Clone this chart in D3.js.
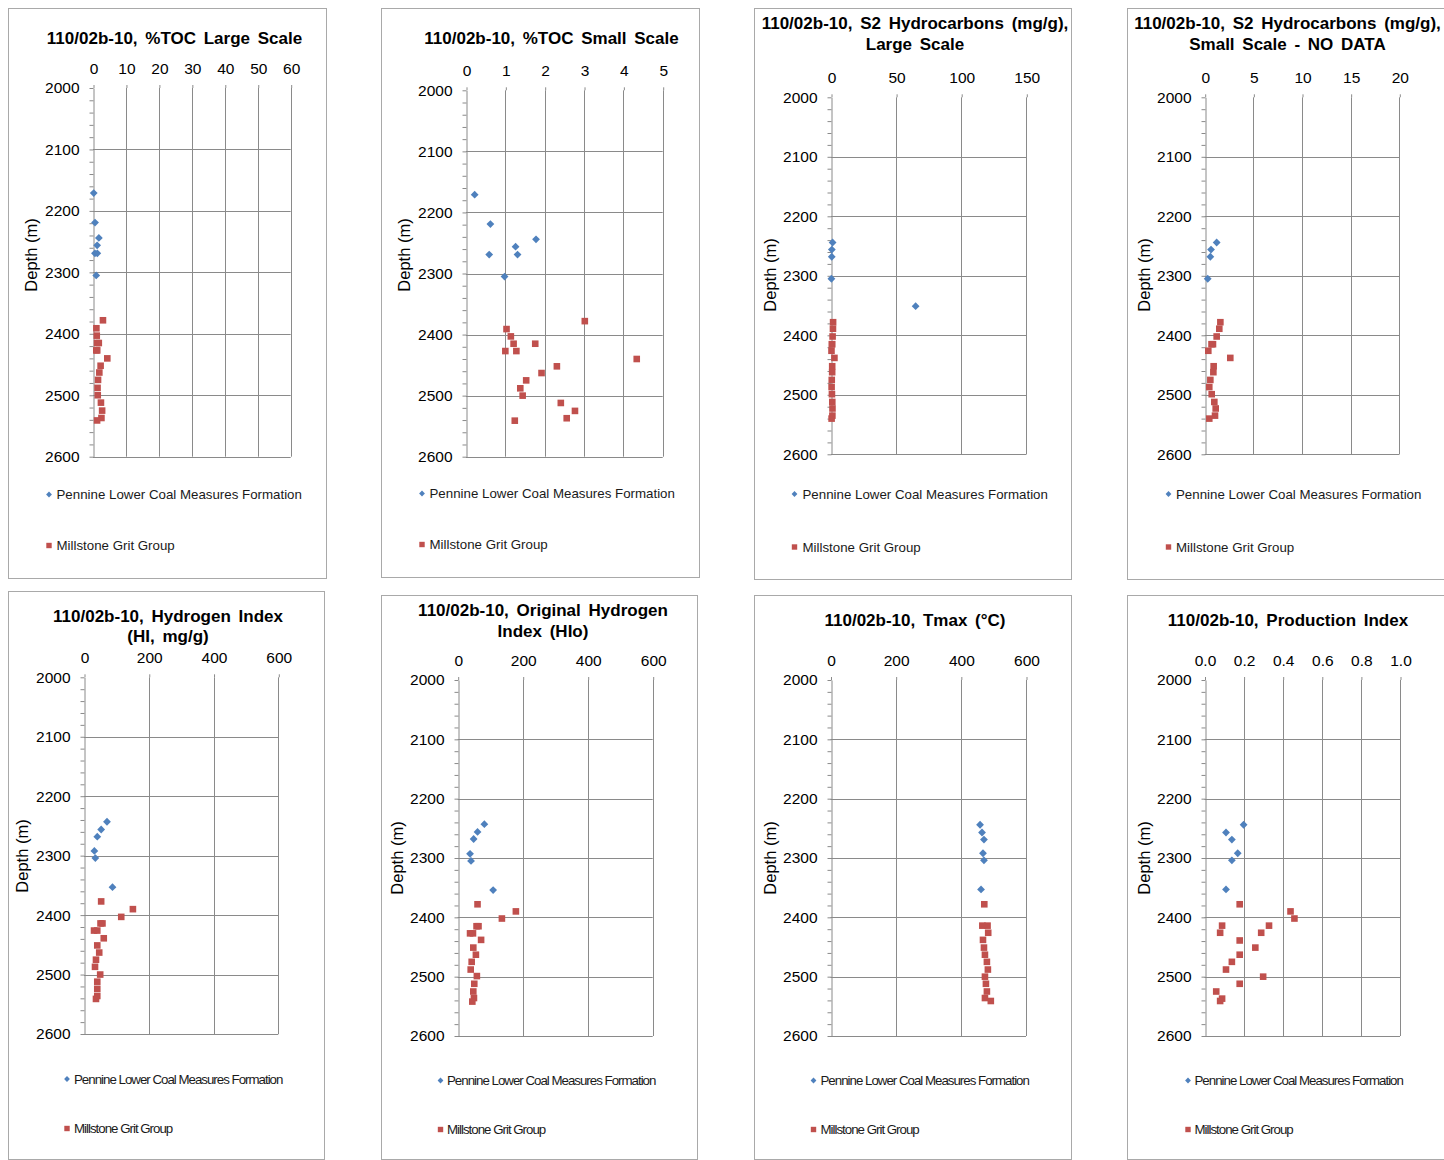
<!DOCTYPE html>
<html>
<head>
<meta charset="utf-8">
<script src="https://cdn.jsdelivr.net/npm/d3@7"></script>
<style>
  body { margin: 0; background: #fff; }
  svg { display: block; font-family: "Liberation Sans", Arial, sans-serif; }
</style>
</head>
<body>
<svg id="chart" width="1444" height="1160"></svg>
<script>
// ---- Well 110/02b-10 geochemistry: depth (m) and measured values ----
const depthTicks = [2000, 2100, 2200, 2300, 2400, 2500, 2600];
const seriesNames = ["Pennine Lower Coal Measures Formation", "Millstone Grit Group"];

// Total organic carbon (%)
const tocDepthPennine = [2171, 2219, 2244, 2256, 2269, 2269, 2305];
const tocPennine = [0.22, 0.62, 1.78, 1.26, 0.59, 1.31, 0.98];
const tocDepthMillstone = [2378, 2391, 2403, 2415, 2415, 2427, 2427, 2440, 2452, 2463, 2475, 2488, 2500, 2512, 2525, 2537, 2541];
const tocMillstone = [3.02, 1.03, 1.14, 1.21, 1.76, 1.00, 1.28, 4.34, 2.31, 1.92, 1.53, 1.38, 1.44, 2.41, 2.77, 2.56, 1.24];

// S2 hydrocarbons (mg/g)
const s2DepthPennine = [2244, 2256, 2268, 2305, 2351];
const s2Pennine = [1.23, 0.65, 0.58, 0.31, 65];
const s2DepthMillstone = [2378, 2389, 2402, 2415, 2415, 2426, 2438, 2452, 2462, 2475, 2487, 2499, 2512, 2523, 2535, 2540];
const s2Millstone = [1.61, 1.50, 1.23, 0.70, 0.85, 0.37, 2.63, 0.92, 0.89, 0.58, 0.47, 0.72, 0.99, 1.13, 1.06, 0.47];

// Hydrogen index (mg/g)
const hiDepthPennine = [2243, 2256, 2268, 2292, 2304, 2353];
const hiPennine = [71, 53, 41, 32, 35, 88];
const hiDepthMillstone = [2377, 2390, 2403, 2414, 2414, 2426, 2426, 2439, 2451, 2463, 2475, 2487, 2500, 2512, 2524, 2536, 2541];
const hiMillstone = [53, 151, 115, 51, 57, 31, 41, 61, 41, 47, 37, 34, 50, 41, 41, 41, 37];

// Original hydrogen index
const hioDepthPennine = [2243, 2256, 2268, 2293, 2305, 2354];
const hioPennine = [82, 61, 49, 38, 41, 109];
const hioDepthMillstone = [2378, 2390, 2402, 2415, 2415, 2427, 2427, 2438, 2451, 2463, 2475, 2488, 2499, 2512, 2525, 2536, 2542];
const hioMillstone = [61, 179, 136, 58, 64, 38, 47, 72, 48, 56, 43, 40, 59, 51, 48, 50, 45];

// Tmax (°C)
const tmaxDepthPennine = [2244, 2257, 2269, 2292, 2304, 2353];
const tmaxPennine = [459, 465, 471, 468, 471, 462];
const tmaxDepthMillstone = [2378, 2414, 2414, 2426, 2438, 2451, 2463, 2475, 2488, 2500, 2512, 2525, 2536, 2541];
const tmaxMillstone = [472, 466, 482, 484, 468, 471, 474, 480, 483, 474, 477, 480, 474, 492];

// Production index
const piDepthPennine = [2244, 2257, 2269, 2292, 2304, 2353];
const piPennine = [0.20, 0.11, 0.14, 0.17, 0.14, 0.11];
const piDepthMillstone = [2378, 2390, 2402, 2414, 2414, 2426, 2426, 2439, 2451, 2463, 2475, 2488, 2500, 2512, 2525, 2537, 2541];
const piMillstone = [0.18, 0.44, 0.46, 0.33, 0.09, 0.29, 0.08, 0.18, 0.26, 0.18, 0.14, 0.11, 0.30, 0.18, 0.06, 0.09, 0.08];

// Value-axis tick labels
const tocLargeTicks = [0, 10, 20, 30, 40, 50, 60];
const tocSmallTicks = [0, 1, 2, 3, 4, 5];
const s2LargeTicks = [0, 50, 100, 150];
const s2SmallTicks = [0, 5, 10, 15, 20];
const hiTicks = [0, 200, 400, 600];
const tmaxTicks = [0, 200, 400, 600];
const piTicks = [0, 0.2, 0.4, 0.6, 0.8, 1.0];

const titles = [
  ["110/02b-10, %TOC Large Scale"],
  ["110/02b-10, %TOC Small Scale"],
  ["110/02b-10, S2 Hydrocarbons (mg/g),", "Large Scale"],
  ["110/02b-10, S2 Hydrocarbons (mg/g),", "Small Scale - NO DATA"],
  ["110/02b-10, Hydrogen Index", "(HI, mg/g)"],
  ["110/02b-10, Original Hydrogen", "Index (HIo)"],
  ["110/02b-10, Tmax (°C)"],
  ["110/02b-10, Production Index"]
];

// ---- styling ----
const BLUE = "#4F81BD";
const RED = "#C0504D";
const GRID = "#8a8a8a";
const FRAME = "#a9a9a9";
const fmtInt = d3.format("d");
const fmtPI = d3.format(".1f");

// ---- panel layout ----
const panels = [
  { box: [8.5, 8.5, 318, 570], plot: [93, 290.7, 88, 456.7], ticks: tocLargeTicks, fmt: fmtInt,
    pen: [tocDepthPennine, tocPennine], mill: [tocDepthMillstone, tocMillstone],
    titleX: 174.5, titleY: [44], depthLab: [31, 255], legend: [49, 56.5, 494.5, 545.5], tight: false },
  { box: [381.5, 8.5, 318, 569], plot: [466, 662.7, 90.3, 456.7], ticks: tocSmallTicks, fmt: fmtInt,
    pen: [tocDepthPennine, tocPennine], mill: [tocDepthMillstone, tocMillstone],
    titleX: 551.5, titleY: [44], depthLab: [403.5, 255], legend: [422, 429.5, 493.5, 544.5], tight: false },
  { box: [754.5, 8.5, 317, 571], plot: [831, 1026.3, 97.3, 454.3], ticks: s2LargeTicks, fmt: fmtInt,
    pen: [s2DepthPennine, s2Pennine], mill: [s2DepthMillstone, s2Millstone],
    titleX: 915, titleY: [29, 49.5], depthLab: [770, 275], legend: [794.5, 802.5, 494, 547], tight: false },
  { box: [1127.5, 8.5, 320, 571], plot: [1204.7, 1399.3, 97.3, 454.3], ticks: s2SmallTicks, fmt: fmtInt,
    pen: [s2DepthPennine, s2Pennine], mill: [s2DepthMillstone, s2Millstone],
    titleX: 1287.5, titleY: [29, 49.5], depthLab: [1143.5, 275], legend: [1168.5, 1176, 494, 547], tight: false },
  { box: [8.5, 591.5, 316, 568], plot: [84, 278.3, 677.3, 1034], ticks: hiTicks, fmt: fmtInt,
    pen: [hiDepthPennine, hiPennine], mill: [hiDepthMillstone, hiMillstone],
    titleX: 168, titleY: [622, 642], depthLab: [22, 856], legend: [67, 74, 1079, 1128.5], tight: true },
  { box: [381.5, 595.5, 316, 564], plot: [457.7, 652.7, 680, 1036], ticks: hiTicks, fmt: fmtInt,
    pen: [hioDepthPennine, hioPennine], mill: [hioDepthMillstone, hioMillstone],
    titleX: 543, titleY: [616, 636.5], depthLab: [397, 858], legend: [440.5, 447, 1080.5, 1129.5], tight: true },
  { box: [754.5, 595.5, 317, 564], plot: [830.5, 1026, 680, 1036], ticks: tmaxTicks, fmt: fmtInt,
    pen: [tmaxDepthPennine, tmaxPennine], mill: [tmaxDepthMillstone, tmaxMillstone],
    titleX: 915, titleY: [626], depthLab: [770, 858], legend: [813.5, 820.5, 1080.5, 1129.5], tight: true },
  { box: [1127.5, 595.5, 320, 564], plot: [1204.5, 1400, 680, 1036], ticks: piTicks, fmt: fmtPI,
    pen: [piDepthPennine, piPennine], mill: [piDepthMillstone, piMillstone],
    titleX: 1288, titleY: [626], depthLab: [1143.5, 858], legend: [1188, 1194.5, 1080.5, 1129.5], tight: true }
];

const svg = d3.select("#chart");

function diamond(r) { return `M0,${-r}L${r},0L0,${r}L${-r},0Z`; }

panels.forEach((p, i) => {
  const g = svg.append("g");
  const [x0, x1, y0, y1] = p.plot;
  const xMax = p.ticks[p.ticks.length - 1];
  const x = d3.scaleLinear().domain([0, xMax]).range([x0, x1]);
  const y = d3.scaleLinear().domain([2000, 2600]).range([y0, y1]);

  // frame
  g.append("rect")
    .attr("x", p.box[0]).attr("y", p.box[1])
    .attr("width", p.box[2]).attr("height", p.box[3])
    .attr("fill", "#fff").attr("stroke", FRAME).attr("stroke-width", 1);

  // title
  const t = g.append("text")
    .attr("text-anchor", "middle")
    .attr("font-weight", "bold")
    .attr("font-size", 17)
    .attr("word-spacing", 3)
    .attr("fill", "#000");
  titles[i].forEach((line, k) => {
    t.append("tspan").attr("x", p.titleX).attr("y", p.titleY[k]).text(line);
  });

  // gridlines
  g.append("g").selectAll("line")
    .data(depthTicks.filter(d => d > 2000))
    .join("line")
    .attr("x1", x0).attr("x2", x1)
    .attr("y1", d => Math.round(y(d)) + 0.5).attr("y2", d => Math.round(y(d)) + 0.5)
    .attr("stroke", GRID).attr("stroke-width", 1);
  g.append("g").selectAll("line")
    .data(p.ticks.filter(d => d > 0))
    .join("line")
    .attr("x1", d => Math.round(x(d)) + 0.5).attr("x2", d => Math.round(x(d)) + 0.5)
    .attr("y1", y0).attr("y2", y1)
    .attr("stroke", GRID).attr("stroke-width", 1);

  // value axis along the top
  const topAxis = g.append("g")
    .attr("transform", `translate(0.5,${y0})`)
    .call(d3.axisTop(x).tickValues(p.ticks).tickFormat(p.fmt)
      .tickSize(3).tickSizeOuter(0).tickPadding(11));
  topAxis.select(".domain").remove();
  topAxis.selectAll("line").attr("stroke", GRID);
  topAxis.selectAll("text").attr("font-size", 15.5).attr("fill", "#000")
    .attr("font-family", "Liberation Sans, Arial, sans-serif");

  // depth axis with minor ticks every 20 m
  const leftAxis = g.append("g")
    .attr("transform", `translate(${Math.round(x0) + 0.5},0)`)
    .call(d3.axisLeft(y).tickValues(d3.range(2000, 2601, 20))
      .tickFormat(d => d % 100 === 0 ? fmtInt(d) : "")
      .tickSize(4).tickSizeOuter(0).tickPadding(10));
  leftAxis.select(".domain").attr("stroke", GRID);
  leftAxis.selectAll("line").attr("stroke", GRID);
  leftAxis.selectAll("text").attr("font-size", 15.5).attr("fill", "#000")
    .attr("font-family", "Liberation Sans, Arial, sans-serif");

  // depth title
  g.append("text")
    .attr("transform", `translate(${p.depthLab[0]},${p.depthLab[1]}) rotate(-90)`)
    .attr("text-anchor", "middle")
    .attr("dominant-baseline", "central")
    .attr("font-size", 16.5)
    .attr("fill", "#000")
    .text("Depth (m)");

  // data points (values outside the axis range are not drawn)
  const inRange = v => v >= 0 && v <= xMax;
  const pen = p.pen[0].map((d, k) => ({ depth: d, v: p.pen[1][k] })).filter(o => inRange(o.v));
  const mill = p.mill[0].map((d, k) => ({ depth: d, v: p.mill[1][k] })).filter(o => inRange(o.v));

  g.append("g").selectAll("rect")
    .data(mill).join("rect")
    .attr("x", d => x(d.v) - 3.3).attr("y", d => y(d.depth) - 3.3)
    .attr("width", 6.6).attr("height", 6.6)
    .attr("fill", RED);
  g.append("g").selectAll("path")
    .data(pen).join("path")
    .attr("transform", d => `translate(${x(d.v)},${y(d.depth)})`)
    .attr("d", diamond(3.9))
    .attr("fill", BLUE);

  // legend
  const [mx, tx, ly1, ly2] = p.legend;
  const lg = g.append("g").attr("font-size", 13.3).attr("fill", "#1a1a1a");
  lg.append("path").attr("transform", `translate(${mx},${ly1})`).attr("d", diamond(2.9)).attr("fill", BLUE);
  lg.append("rect").attr("x", mx - 2.7).attr("y", ly2 - 2.7).attr("width", 5.4).attr("height", 5.4).attr("fill", RED);
  [ly1, ly2].forEach((yy, k) => {
    lg.append("text")
      .attr("x", tx).attr("y", yy)
      .attr("dy", "0.36em")
      .attr("letter-spacing", p.tight ? -1 : 0)
      .text(seriesNames[k]);
  });
});
</script>
</body>
</html>
